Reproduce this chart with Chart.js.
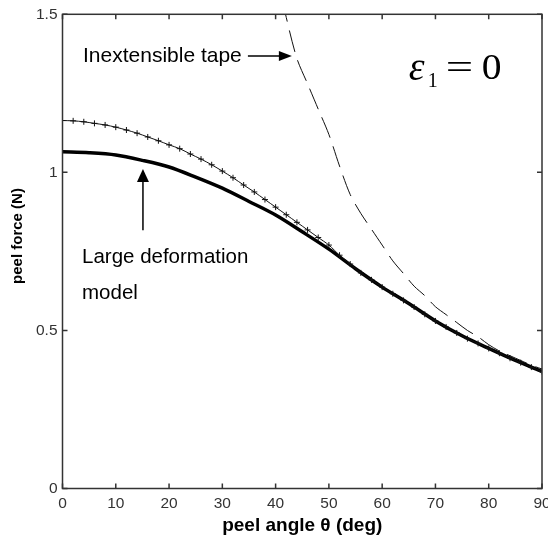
<!DOCTYPE html>
<html>
<head>
<meta charset="utf-8">
<script src="https://cdn.jsdelivr.net/npm/chart.js@4"></script>
<style>
  body { margin: 0; background: #fff; }
  #wrap { width: 548px; height: 539px; }
</style>
</head>
<body>
<div id="wrap"><canvas id="peelChart" width="548" height="539"></canvas></div>
<script>
// peel angle (deg) and peel force (N)
const largeAngles = [0, 5, 10, 15, 20, 25, 30, 35, 40, 45, 50, 55, 60, 65, 70, 75, 80, 85, 90];
const largeForce = [1.065, 1.062, 1.055, 1.038, 1.017, 0.985, 0.950, 0.908, 0.865, 0.812, 0.757, 0.695, 0.637, 0.585, 0.530, 0.483, 0.443, 0.405, 0.370];

const plusAngles = [0, 2, 4, 6, 8, 10, 12, 14, 16, 18, 20, 22, 24, 26, 28, 30, 32, 34, 36, 38, 40, 42, 44,
  46, 48, 50, 52, 54, 56, 58, 60, 62, 64, 66, 68, 70, 72, 74, 76, 78, 80, 82, 84, 86, 88, 90];
const plusForce = [1.164, 1.163, 1.160, 1.155, 1.150, 1.143, 1.134, 1.124, 1.112, 1.100, 1.087, 1.075, 1.058,
  1.042, 1.024, 1.004, 0.983, 0.960, 0.938, 0.914, 0.890, 0.866, 0.842, 0.818, 0.794, 0.770, 0.738, 0.710,
  0.682, 0.660, 0.637, 0.616, 0.595, 0.574, 0.551, 0.530, 0.511, 0.492, 0.474, 0.459, 0.443, 0.428, 0.412,
  0.398, 0.384, 0.370];

const tapeAngles = [40, 42, 44, 46, 48, 50, 52, 54, 56, 58, 60, 62, 64, 66, 68, 70, 72, 74, 76, 78, 80, 82, 84, 86, 88, 90];
const tapeForce = [1.64, 1.49, 1.36, 1.28, 1.20, 1.12, 1.02, 0.93, 0.87, 0.82, 0.77, 0.72, 0.68, 0.64, 0.61,
  0.575, 0.55, 0.525, 0.50, 0.48, 0.455, 0.435, 0.42, 0.405, 0.39, 0.378];

const xTicks = [0, 10, 20, 30, 40, 50, 60, 70, 80, 90];
const yTicks = [0, 0.5, 1, 1.5];

const toPoints = (xs, ys) => xs.map((x, i) => ({ x: x, y: ys[i] }));

const SANS = '"Liberation Sans", Arial, sans-serif';
const SERIF = '"Liberation Serif", "Times New Roman", serif';

// box round the plot with inward ticks on all four sides
const frame = {
  id: 'frame',
  afterDraw(chart) {
    const { ctx, chartArea: a, scales: { x, y } } = chart;
    ctx.save();
    ctx.strokeStyle = '#333';
    ctx.lineWidth = 1.5;
    ctx.strokeRect(a.left, a.top, a.right - a.left, a.bottom - a.top);
    ctx.beginPath();
    xTicks.forEach(v => {
      const px = x.getPixelForValue(v);
      ctx.moveTo(px, a.bottom); ctx.lineTo(px, a.bottom - 5);
      ctx.moveTo(px, a.top); ctx.lineTo(px, a.top + 5);
    });
    yTicks.forEach(v => {
      const py = y.getPixelForValue(v);
      ctx.moveTo(a.left, py); ctx.lineTo(a.left + 5, py);
      ctx.moveTo(a.right, py); ctx.lineTo(a.right - 5, py);
    });
    ctx.stroke();

    // y axis title
    ctx.fillStyle = '#000';
    ctx.font = 'bold 15px ' + SANS;
    ctx.textAlign = 'center';
    ctx.textBaseline = 'middle';
    ctx.translate(17.5, 236);
    ctx.rotate(-Math.PI / 2);
    ctx.fillText('peel force (N)', 0, 0);
    ctx.restore();
  }
};

// text labels and arrows inside the plot
const notes = {
  id: 'notes',
  afterDatasetsDraw(chart) {
    const { ctx, scales: { x, y } } = chart;
    const px = v => x.getPixelForValue(v);
    const py = v => y.getPixelForValue(v);
    ctx.save();
    ctx.fillStyle = '#000';
    ctx.strokeStyle = '#000';
    ctx.textAlign = 'left';
    ctx.textBaseline = 'alphabetic';

    ctx.font = '21px ' + SANS;
    ctx.fillText('Inextensible tape', px(3.85), py(1.350));

    ctx.font = '20.5px ' + SANS;
    ctx.fillText('Large deformation', px(3.66), py(0.713));
    ctx.fillText('model', px(3.66), py(0.600));

    // horizontal arrow to the dashed curve
    let ay = py(1.368), tip = px(43.05);
    ctx.lineWidth = 1.5;
    ctx.beginPath();
    ctx.moveTo(px(34.8), ay); ctx.lineTo(tip - 10, ay);
    ctx.stroke();
    ctx.beginPath();
    ctx.moveTo(tip, ay); ctx.lineTo(tip - 13, ay - 5); ctx.lineTo(tip - 13, ay + 5);
    ctx.closePath(); ctx.fill();

    // vertical arrow to the thick curve
    let ax = px(15.1), top = py(1.011);
    ctx.beginPath();
    ctx.moveTo(ax, py(0.817)); ctx.lineTo(ax, top + 10);
    ctx.stroke();
    ctx.beginPath();
    ctx.moveTo(ax, top); ctx.lineTo(ax - 6, top + 13); ctx.lineTo(ax + 6, top + 13);
    ctx.closePath(); ctx.fill();

    // epsilon_1 = 0
    const ex = px(65.2), eb = py(1.296);
    ctx.font = 'italic 40px ' + SERIF;
    ctx.fillText('\u03b5', ex - 1, eb + 1);
    ctx.font = '20px ' + SERIF;
    ctx.fillText('1', ex + 18, eb + 8);
    ctx.font = '36px ' + SERIF;
    ctx.save();
    ctx.translate(ex + 36, eb);
    ctx.scale(1.35, 1);
    ctx.fillText('=', 0, 0);
    ctx.restore();
    ctx.save();
    ctx.translate(ex + 72, eb);
    ctx.scale(1.1, 1);
    ctx.fillText('0', 0, 0);
    ctx.restore();
    ctx.restore();
  }
};

const ctx = document.getElementById('peelChart').getContext('2d');
new Chart(ctx, {
  type: 'line',
  data: {
    datasets: [
      {
        label: 'Inextensible tape',
        data: toPoints(tapeAngles, tapeForce),
        borderColor: '#111',
        borderWidth: 1,
        borderDash: [22, 9],
        pointRadius: 0,
        tension: 0.3,
        fill: false
      },
      {
        label: 'plus',
        data: toPoints(plusAngles, plusForce),
        borderColor: '#111',
        borderWidth: 1,
        pointStyle: 'cross',
        pointRadius: 3,
        pointBorderWidth: 1,
        pointBorderColor: '#111',
        tension: 0.3,
        fill: false
      },
      {
        label: 'Large deformation model',
        data: toPoints(largeAngles, largeForce),
        borderColor: '#000',
        borderWidth: 3.5,
        pointRadius: 0,
        tension: 0.3,
        fill: false
      }
    ]
  },
  options: {
    responsive: false,
    animation: false,
    devicePixelRatio: 1,
    layout: { padding: { top: 10, right: 6, left: 0, bottom: 0 } },
    plugins: { legend: { display: false }, tooltip: { enabled: false } },
    scales: {
      x: {
        type: 'linear',
        min: 0,
        max: 90,
        afterBuildTicks: s => { s.ticks = xTicks.map(v => ({ value: v })); },
        afterFit: s => { s.height = 50.5; s.paddingLeft = 0; s.paddingRight = 0; },
        grid: { display: false, drawTicks: false },
        border: { display: false },
        ticks: { padding: 6, color: '#333', font: { family: SANS, size: 15.5 }, maxRotation: 0 },
        title: {
          display: true,
          text: 'peel angle \u03b8 (deg)',
          color: '#000',
          font: { family: SANS, size: 19, weight: 'bold' },
          padding: { top: 0, bottom: 2 }
        }
      },
      y: {
        type: 'linear',
        min: 0,
        max: 1.5,
        afterBuildTicks: s => { s.ticks = yTicks.map(v => ({ value: v })); },
        afterFit: s => { s.width = 62.5; },
        grid: { display: false, drawTicks: false },
        border: { display: false },
        ticks: {
          padding: 5,
          color: '#333',
          font: { family: SANS, size: 15.5 },
          callback: v => String(v)
        }
      }
    }
  },
  plugins: [frame, notes]
});
</script>
</body>
</html>
